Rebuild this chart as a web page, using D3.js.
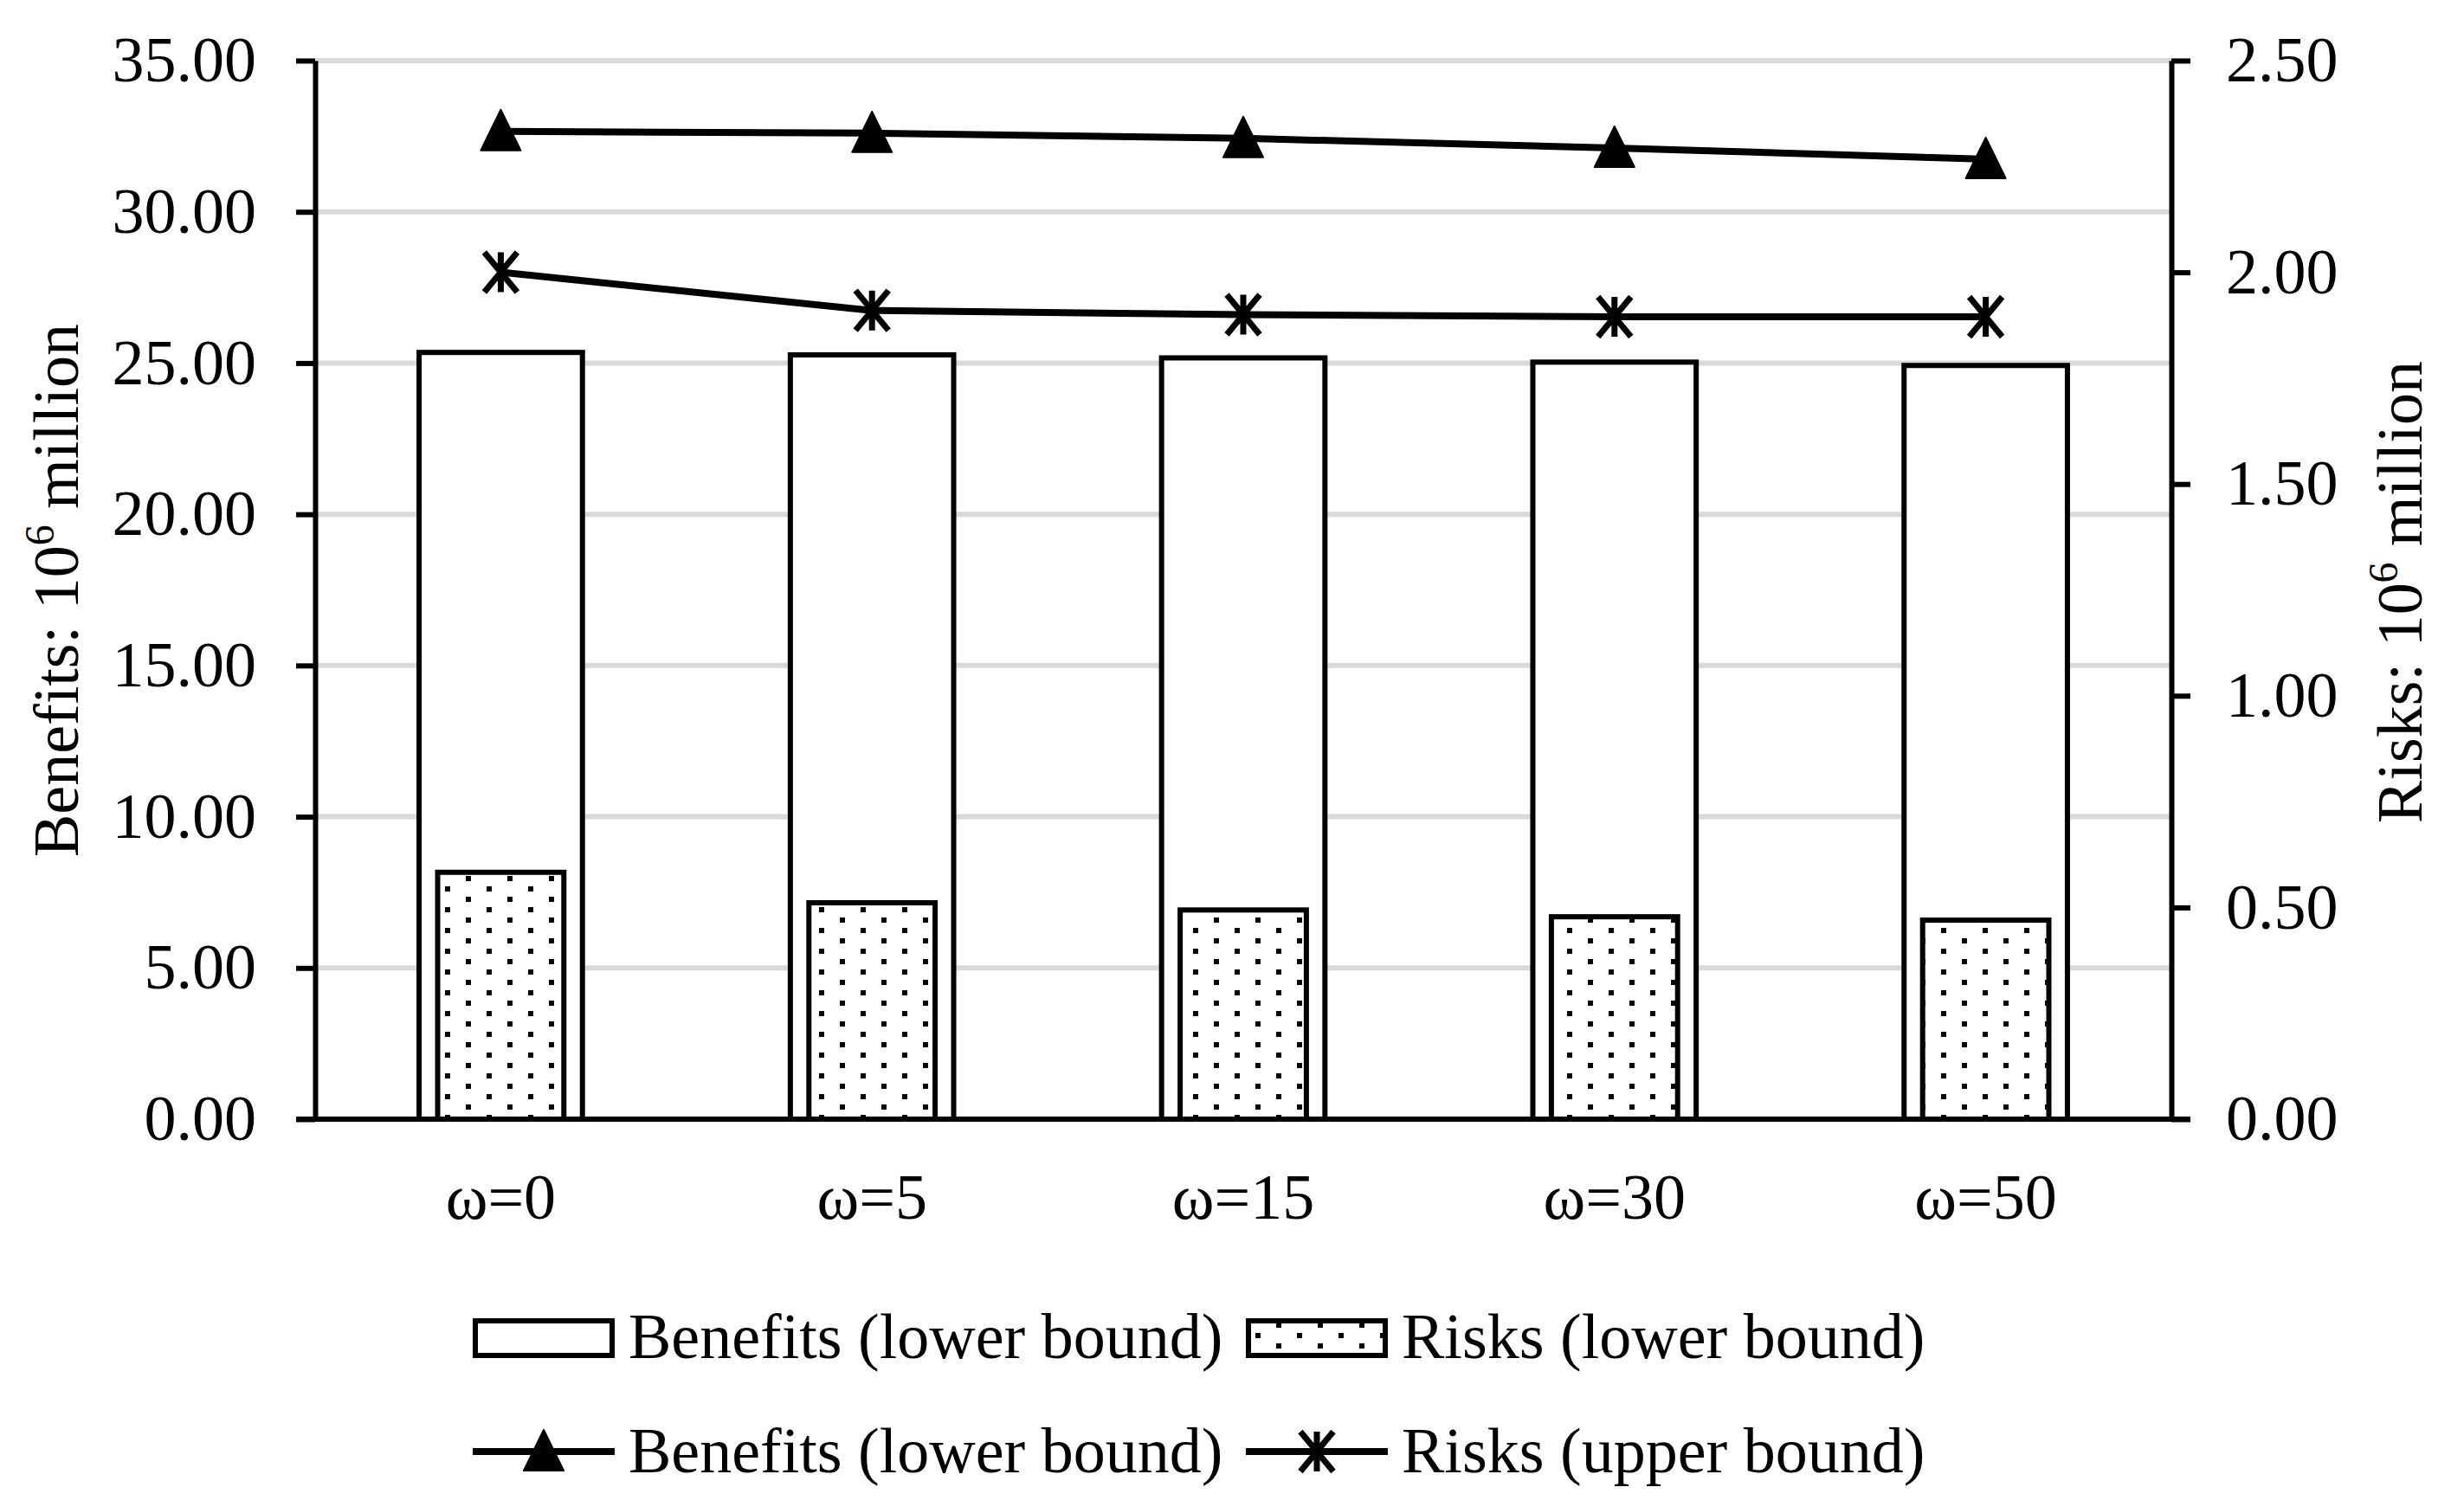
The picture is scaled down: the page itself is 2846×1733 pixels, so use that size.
<!DOCTYPE html>
<html>
<head>
<meta charset="utf-8">
<script src="https://cdn.jsdelivr.net/npm/d3@7"></script>
<style>
  body { margin: 0; background: #fff; }
  svg text { font-family: "Liberation Serif", "Times New Roman", serif; fill: #000; }
</style>
</head>
<body>
<div id="chart"></div>
<script>
// values
const categories = ["ω=0", "ω=5", "ω=15", "ω=30", "ω=50"];
const benefitsLowerBars = [25.35, 25.27, 25.17, 25.03, 24.92];   // left axis
const risksLowerBars = [0.583, 0.511, 0.494, 0.478, 0.470];       // right axis
const benefitsLine = [32.66, 32.60, 32.43, 32.11, 31.74];         // left axis
const risksUpperLine = [2.00, 1.91, 1.90, 1.895, 1.895];          // right axis
const leftTicks = [0, 5, 10, 15, 20, 25, 30, 35];
const rightTicks = [0, 0.5, 1, 1.5, 2, 2.5];
const legendLabels = ["Benefits (lower bound)", "Risks (lower bound)", "Benefits (lower bound)", "Risks (upper bound)"];

const W = 2846, H = 1733;
const margin = { top: 70, bottom: 440, left: 364, right: 338 };
const fs = 74;

const svg = d3.select("#chart")
  .append("svg")
  .attr("width", W)
  .attr("height", H);

// dotted fill for the risks bars
const defs = svg.append("defs");
const pat = defs.append("pattern")
  .attr("id", "dots")
  .attr("patternUnits", "userSpaceOnUse")
  .attr("width", 48).attr("height", 24);
pat.append("rect").attr("width", 48).attr("height", 24).attr("fill", "#fff");
pat.append("rect").attr("x", 10).attr("y", 4).attr("width", 6).attr("height", 6).attr("fill", "#000");
pat.append("rect").attr("x", 34).attr("y", 16).attr("width", 6).attr("height", 6).attr("fill", "#000");

const x = d3.scaleBand()
  .domain(categories)
  .range([margin.left, W - margin.right]);

const yL = d3.scaleLinear().domain([0, 35]).range([H - margin.bottom, margin.top]);
const yR = d3.scaleLinear().domain([0, 2.5]).range([H - margin.bottom, margin.top]);
const y0 = yL(0);

// gridlines
svg.append("g")
  .selectAll("line")
  .data(leftTicks.filter(d => d > 0))
  .enter()
  .append("line")
  .attr("x1", margin.left).attr("x2", W - margin.right)
  .attr("y1", d => yL(d)).attr("y2", d => yL(d))
  .attr("stroke", "#d9d9d9")
  .attr("stroke-width", 6);

// bars: benefits (wide, white) then risks (narrow, dotted) on top
const bw1 = x.bandwidth() * 0.44;
const bw2 = x.bandwidth() * 0.34;

svg.append("g")
  .selectAll("rect")
  .data(benefitsLowerBars)
  .enter()
  .append("rect")
  .attr("x", (d, i) => x(categories[i]) + (x.bandwidth() - bw1) / 2)
  .attr("y", d => yL(d))
  .attr("width", bw1)
  .attr("height", d => y0 - yL(d))
  .attr("fill", "#fff")
  .attr("stroke", "#000")
  .attr("stroke-width", 6);

svg.append("g")
  .selectAll("rect")
  .data(risksLowerBars)
  .enter()
  .append("rect")
  .attr("x", (d, i) => x(categories[i]) + (x.bandwidth() - bw2) / 2)
  .attr("y", d => yR(d))
  .attr("width", bw2)
  .attr("height", d => y0 - yR(d))
  .attr("fill", "url(#dots)")
  .attr("stroke", "#000")
  .attr("stroke-width", 6);

// axes
const axL = svg.append("g")
  .attr("transform", `translate(${margin.left},0)`)
  .call(d3.axisLeft(yL).tickValues(leftTicks).tickFormat(d3.format(".2f"))
    .tickSize(22).tickSizeOuter(0).tickPadding(46));

const axR = svg.append("g")
  .attr("transform", `translate(${W - margin.right},0)`)
  .call(d3.axisRight(yR).tickValues(rightTicks).tickFormat(d3.format(".2f"))
    .tickSize(22).tickSizeOuter(0).tickPadding(41));

[axL, axR].forEach(a => {
  a.selectAll("path, line").attr("stroke", "#000").attr("stroke-width", 6);
  a.selectAll("text").attr("font-size", fs).attr("font-family", "Liberation Serif");
});

// baseline
svg.append("line")
  .attr("x1", margin.left - 22).attr("x2", W - margin.right + 22)
  .attr("y1", y0).attr("y2", y0)
  .attr("stroke", "#000").attr("stroke-width", 6);

// category labels
svg.append("g")
  .selectAll("text")
  .data(categories)
  .enter()
  .append("text")
  .attr("x", d => x(d) + x.bandwidth() / 2)
  .attr("y", 1408)
  .attr("text-anchor", "middle")
  .attr("font-size", fs)
  .text(d => d);

// lines
const line = d3.line().x(d => d[0]).y(d => d[1]);
const ptsB = benefitsLine.map((d, i) => [x(categories[i]) + x.bandwidth() / 2, yL(d)]);
const ptsR = risksUpperLine.map((d, i) => [x(categories[i]) + x.bandwidth() / 2, yR(d)]);

svg.append("path").attr("d", line(ptsB)).attr("fill", "none").attr("stroke", "#000").attr("stroke-width", 8);
svg.append("path").attr("d", line(ptsR)).attr("fill", "none").attr("stroke", "#000").attr("stroke-width", 8);

function triangle(g, cx, cy) {
  g.append("path")
    .attr("d", `M${cx},${cy - 25}L${cx + 23},${cy + 22}L${cx - 23},${cy + 22}Z`)
    .attr("fill", "#000").attr("stroke", "#000").attr("stroke-width", 2).attr("stroke-linejoin", "round");
}
function asterisk(g, cx, cy) {
  g.append("path")
    .attr("d", `M${cx},${cy - 23}V${cy + 23}M${cx - 19},${cy - 23}L${cx + 19},${cy + 23}M${cx + 19},${cy - 23}L${cx - 19},${cy + 23}`)
    .attr("fill", "none").attr("stroke", "#000").attr("stroke-width", 7);
}

const gm = svg.append("g");
ptsB.forEach(p => triangle(gm, p[0], p[1]));
ptsR.forEach(p => asterisk(gm, p[0], p[1]));

// axis titles
svg.append("text")
  .attr("transform", `translate(90,682) rotate(-90)`)
  .attr("text-anchor", "middle")
  .attr("font-size", fs)
  .call(t => {
    t.append("tspan").text("Benefits: 10");
    t.append("tspan").attr("dy", -28).attr("font-size", 48).text("6");
    t.append("tspan").attr("dy", 28).text(" million");
  });

svg.append("text")
  .attr("transform", `translate(2797,684) rotate(-90)`)
  .attr("text-anchor", "middle")
  .attr("font-size", fs)
  .call(t => {
    t.append("tspan").text("Risks: 10");
    t.append("tspan").attr("dy", -28).attr("font-size", 48).text("6");
    t.append("tspan").attr("dy", 28).text(" million");
  });

// legend
const leg = svg.append("g");
const legX = [546, 1439];
const legY = [1545, 1677];
legendLabels.forEach((lab, i) => {
  const col = i % 2, row = Math.floor(i / 2);
  const lx = legX[col], ly = legY[row];
  if (row === 0) {
    leg.append("rect")
      .attr("x", lx + 3).attr("y", ly - 19)
      .attr("width", 158).attr("height", 40)
      .attr("fill", col === 0 ? "#fff" : "url(#dots)")
      .attr("stroke", "#000").attr("stroke-width", 6);
  } else {
    leg.append("line")
      .attr("x1", lx).attr("x2", lx + 164)
      .attr("y1", ly).attr("y2", ly)
      .attr("stroke", "#000").attr("stroke-width", 8);
    if (col === 0) triangle(leg, lx + 82, ly); else asterisk(leg, lx + 82, ly);
  }
  leg.append("text")
    .attr("x", lx + 180)
    .attr("y", ly + 24)
    .attr("font-size", fs)
    .text(lab);
});
</script>
</body>
</html>
